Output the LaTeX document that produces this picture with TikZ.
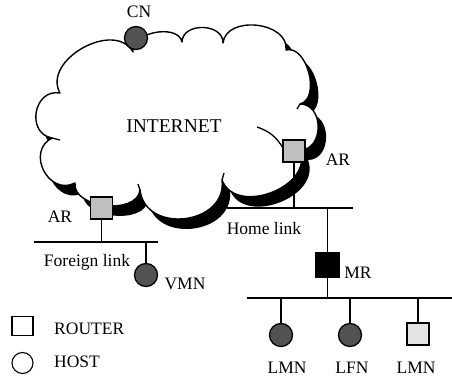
\documentclass[tikz,border=0pt]{standalone}
\usepackage{fontspec}
\setmainfont{Liberation Serif}
\begin{document}
\begin{tikzpicture}[x=1pt,y=-1pt,
  every node/.style={font=\fontsize{17.5}{19}\selectfont},
  ln/.style={line width=1.3pt},
  router/.style={draw, line width=1.3pt, fill=gray!50, minimum width=22pt, minimum height=22pt, inner sep=0pt},
  lrouter/.style={router, fill=gray!22},
  mrouter/.style={router, fill=black, minimum width=24pt, minimum height=24pt},
  host/.style={circle, draw, line width=1.3pt, fill=black!68, minimum size=23pt, inner sep=0pt},
  legend/.style={draw, line width=1.1pt, fill=white, inner sep=0pt},
  lbl/.style={inner sep=0pt}]
\useasboundingbox (0,0) rectangle (452,379);
\def\cloudpath{(60,93) to[bend left=90,looseness=1.15] (133,52)
  to[bend left=90,looseness=1.0] (182,42)
  to[bend left=90,looseness=1.25] (223,43)
  to[bend left=90,looseness=1.15] (286,50)
  to[bend left=90,looseness=1.0] (300,104)
  to[bend left=90,looseness=1.35] (300,150)
  to[bend left=90,looseness=1.2] (222,180)
  to[bend left=90,looseness=1.4] (140,190)
  to[bend left=90,looseness=1.0] (75,183)
  to[bend left=90,looseness=1.5] (52,138)
  to[bend left=90,looseness=1.5] (60,93)}
% shadow
\fill[black, shift={(8,10)}] \cloudpath -- cycle;
% cloud
\filldraw[fill=white, line width=1.4pt, line join=round] \cloudpath -- cycle;
% inner strokes
\draw[line width=1.3pt] (257,127) to[bend left=20] (283,148);
\draw[line width=1.3pt] (300,104) -- (297,109);
\draw[line width=1.3pt] (222,180) -- (224,173);
\draw[line width=1.3pt] (140,190) -- (138,184);
\draw[line width=1.3pt] (52,138) -- (60,140);
\node[lbl, font=\fontsize{19.5}{21}\selectfont] (inet) at (174,126) {INTERNET};
% nodes
\node[host] (cn) at (136,38) {};
\node[lbl] (cnl) at (139,12) {CN};
\node[router] (arR) at (294,151) {};
\node[lbl] (arRl) at (338,160) {AR};
\node[router] (arL) at (101.5,208) {};
\node[lbl] (arLl) at (60,217) {AR};
\coordinate (hl1) at (227,208);
\coordinate (hl2) at (353,208);
\coordinate (fl1) at (34,242);
\coordinate (fl2) at (158,242);
\coordinate (bl1) at (247,298);
\coordinate (bl2) at (452,298);
\draw[ln] (hl1) -- (hl2);
\draw[ln] (fl1) -- (fl2);
\draw[ln] (bl1) -- (bl2);
\draw[ln] (arR) -- (arR |- hl1);
\draw[ln] (arL) -- (arL |- fl1);
\node[lbl] (hll) at (264,229) {Home link};
\node[lbl] (fll) at (87,262) {Foreign link};
\node[host] (vmn) at (146,275) {};
\node[lbl] (vmnl) at (185,284) {VMN};
\draw[ln] (vmn) -- (vmn |- fl1);
\node[mrouter] (mr) at (327.5,265) {};
\node[lbl] (mrl) at (358,273) {MR};
\draw[ln] (mr) -- (mr |- hl1);
\draw[ln] (mr) -- (mr |- bl1);
\node[host] (lmn1) at (281,335) {};
\node[host] (lfn) at (350,335) {};
\node[lrouter] (lmn2) at (418,334) {};
\draw[ln] (lmn1) -- (lmn1 |- bl1);
\draw[ln] (lfn) -- (lfn |- bl1);
\draw[ln] (lmn2) -- (lmn2 |- bl1);
\node[lbl] (lmn1l) at (287,368) {LMN};
\node[lbl] (lfnl) at (352,368) {LFN};
\node[lbl] (lmn2l) at (416,368) {LMN};
% legend
\node[legend, minimum width=21pt, minimum height=19pt] (lgr) at (22.5,326) {};
\node[legend, circle, minimum size=21pt] (lgh) at (22.5,363) {};
\node[lbl, anchor=west] (lgrl) at (54,329) {ROUTER};
\node[lbl, anchor=west] (lghl) at (54,362) {HOST};
\end{tikzpicture}
\end{document}
